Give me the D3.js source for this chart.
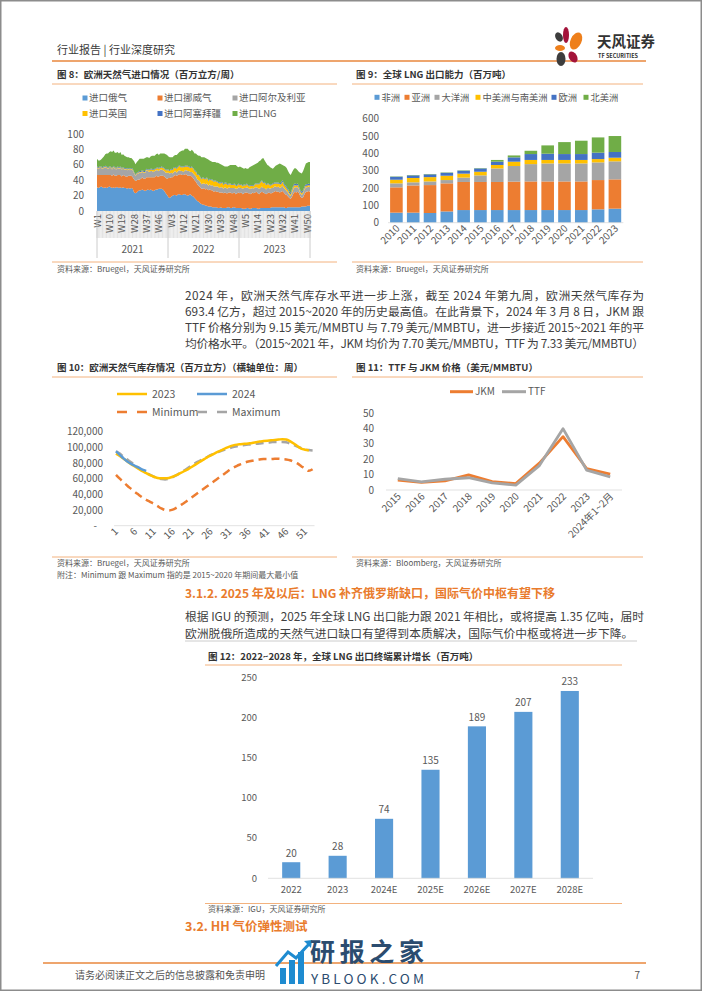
<!DOCTYPE html>
<html><head><meta charset="utf-8">
<script src="https://cdn.jsdelivr.net/npm/d3@7"></script>
<style>body{margin:0;background:#fff} svg{display:block} text{font-family:"Noto Sans CJK SC","Noto Sans",sans-serif}</style>
</head><body><svg id="page" width="702" height="991"></svg>
<script>
// ---------- Figure 8 data (weekly, 2021-2023) ----------
const fig8Keys = ["进口俄气","进口挪威气","进口阿尔及利亚","进口英国","进口阿塞拜疆","进口LNG"];
const fig8Years = ["2021","2022","2023"];
const fig8TickLabels = ["W1","W10","W19","W28","W37","W46","W3","W12","W21","W30","W39","W48","W5","W14","W23","W32","W41","W50"];
const fig8Y = [0,20,40,60,80,100];
const imRussia = [31,30,31,32,31,30,31,30,31,32,31,30,31,30,31,31,30,31,30,31,30,30,29,30,29,30,29,24,23,24,26,27,27,28,27,26,27,28,27,28,27,26,27,28,28,29,29,29,28,26,23,21,
 18,17,19,20,21,21,20,22,22,21,21,22,22,21,20,21,22,20,19,17,15,13,12,10,9,8,8,7,7,6,6,6,5,5,5,5,4,4,5,4,4,4,4,5,5,4,4,5,5,4,4,4,
 4,4,3,3,3,4,4,3,3,4,4,4,4,3,3,4,4,4,4,4,4,4,4,5,5,5,5,5,5,5,5,5,5,4,4,5,5,5,5,5,5,5,5,5,5,6,6,6,6,7,7,7];
const imNorway = [16,17,16,15,16,17,16,17,16,15,16,16,17,16,15,16,17,16,15,16,16,15,16,16,17,16,15,17,16,16,15,14,15,16,15,16,17,16,17,16,17,18,17,18,17,16,17,17,18,19,20,21,
 25,26,25,24,25,26,26,25,26,27,26,25,26,27,26,25,24,25,24,23,23,22,21,21,20,21,22,21,22,21,22,21,22,20,21,20,21,20,19,20,19,20,19,18,19,20,19,18,19,18,19,20,
 19,20,19,20,21,20,19,20,19,20,19,20,21,20,19,20,21,20,19,18,19,20,19,18,19,20,21,20,20,19,20,21,19,18,17,14,12,11,14,18,20,19,20,18,14,11,12,16,19,18,19,18];
const imAlgeria = [9,8,9,9,8,9,10,9,8,9,9,8,9,9,8,9,8,9,9,8,8,9,8,8,7,8,9,8,7,8,8,9,8,7,8,8,9,8,7,8,8,7,8,7,8,7,8,8,7,7,7,8,
 7,6,6,5,5,5,4,5,5,4,5,4,5,5,6,6,5,6,6,7,7,6,7,7,6,7,6,7,7,6,7,6,7,7,6,7,7,6,7,7,6,7,7,6,7,6,7,7,6,7,6,7,
 7,6,7,7,6,7,7,6,7,6,6,7,6,7,7,6,7,6,7,6,7,6,6,7,6,7,6,6,7,6,6,7,6,6,5,5,4,4,5,6,6,7,6,5,4,4,5,6,6,6,6,6];
const imUK = [1,1,1,1,1,1,1,1,1,1,1,1,1,1,1,1,1,1,1,1,1,1,1,1,1,1,1,1,1,1,1,1,1,1,1,1,1,1,2,2,2,2,2,2,3,3,2,3,3,3,3,3,
 3,3,4,4,5,4,5,5,6,5,5,6,5,5,6,5,5,6,6,5,6,6,7,6,6,7,6,6,7,6,6,7,6,6,7,6,5,6,5,6,5,5,6,5,4,5,4,4,5,4,4,4,
 4,4,3,4,3,4,3,3,4,3,3,4,4,5,6,7,7,6,7,6,5,5,4,4,5,4,4,5,4,5,4,5,4,4,3,3,2,2,3,3,3,2,3,2,2,2,2,2,2,2,2,2];
const imAzer = [1,1,1,1,1,1,1,1,1,1,1,1,1,1,1,1,1,1,1,1,1,1,1,1,1,1,1,1,1,1,1,1,1,1,1,1,1,1,1,1,1,1,1,1,1,1,1,1,1,1,1,1,
 1,1,1,1,1,1,1,1,1,1,1,1,1,1,1,1,1,1,1,1,1,1,1,1,1,1,1,1,1,1,1,1,1,1,1,1,1,1,1,1,1,1,1,1,1,1,1,1,1,1,1,1,
 1,1,1,1,1,1,1,1,1,1,1,1,1,1,1,1,1,1,1,1,1,1,1,1,1,1,1,1,1,1,2,2,2,2,2,2,2,2,2,2,2,2,2,2,2,2,2,2,2,2,2,2];
const imLNG = [10,9,8,9,12,13,15,17,18,19,20,21,20,19,20,19,18,19,17,17,16,15,15,14,14,13,12,14,13,14,15,16,16,15,16,17,15,16,15,16,17,18,17,18,18,17,18,17,18,19,20,19,
 17,17,15,16,15,16,17,17,17,20,21,21,22,22,22,21,21,22,22,22,23,25,24,27,28,26,27,27,24,27,24,24,23,25,24,24,25,25,24,22,24,21,21,23,23,24,25,25,24,26,24,21,
 23,22,23,20,22,19,21,24,24,25,27,25,26,27,29,28,28,32,28,28,24,23,23,21,19,20,22,23,24,26,24,20,23,24,25,23,24,23,22,20,20,20,17,19,23,24,25,25,27,28,28,29];

// ---------- Figure 9 data ----------
const fig9Years = ["2010","2011","2012","2013","2014","2015","2016","2017","2018","2019","2020","2021","2022","2023"];
const fig9Keys = ["非洲","亚洲","大洋洲","中美洲与南美洲","欧洲","北美洲"];
const lngAfrica  = [58,58,56,65,73,73,73,73,73,73,73,73,77,81];
const lngAsia    = [146,157,161,162,162,162,162,164,165,165,165,165,169,169];
const lngOceania = [23,18,21,19,25,38,78,90,100,104,104,104,102,104];
const lngLatAm   = [21,25,25,25,23,21,20,25,24,20,20,20,19,21];
const lngEurope  = [17,15,16,17,17,19,19,25,34,36,34,34,37,33];
const lngNAm     = [2,2,2,2,2,2,10,11,19,48,69,77,88,92];
const fig9Y = [0,100,200,300,400,500,600];

// ---------- Figure 10 data ----------
const fig10Weeks = ["1","2","3","4","5","6","7","8","9","10","11","12","13","14","15","16","17","18","19","20","21","22","23","24","25","26","27","28","29","30","31","32","33","34","35","36","37","38","39","40","41","42","43","44","45","46","47","48","49","50","51","52","53"];
const fig10Ticks = ["1","6","11","16","21","26","31","36","41","46","51"];
const stor2023 = [92000,89000,85500,82000,78500,75500,72500,69500,67000,64500,62500,61000,60500,60500,61000,62500,64500,67000,69500,72000,75000,78000,81000,84000,87000,89500,92000,94500,96500,99000,101000,102500,103500,104000,104500,105000,105500,106500,107500,108000,108500,109000,109500,110000,110500,110000,108000,105000,101500,98500,97000,96000];
const stor2024 = [95000,90500,86000,82000,79000,76500,74000,71500,70000];
const storMin = [65000,60000,55500,51000,47000,43000,39500,36000,33000,30500,28000,25000,22000,20000,19500,20500,23000,26000,29000,32500,36000,39500,43000,46500,50000,53500,57000,60500,64000,67500,71000,74000,76500,78500,80500,82000,83000,84000,84500,85000,85000,85000,85500,85500,85000,84500,83500,81500,79500,76000,72500,70000,72000];
const storMax = [95000,92000,88000,84500,81000,77500,74000,70500,67500,65000,62500,60500,59500,59000,60000,62000,64500,67500,70500,73500,77000,80000,82500,85000,87500,90000,92000,94000,96000,97500,99000,100500,101500,102500,103000,103500,104000,104500,105000,105500,106000,106500,107000,107000,107000,106500,105000,103000,101000,99000,97500,96500,96000];
const fig10Y = [0,20000,40000,60000,80000,100000,120000];

// ---------- Figure 11 data ----------
const fig11Cats = ["2015","2016","2017","2018","2019","2020","2021","2022","2023","2024年1~2月"];
const priceJKM = [6.5,5.0,6.0,9.8,5.5,4.2,17.5,34.8,14.0,10.3];
const priceTTF = [7.4,5.3,7.0,8.0,4.7,3.2,15.9,40.0,13.0,8.6];
const fig11Y = [0,10,20,30,40,50];

// ---------- Figure 12 data ----------
const fig12Cats = ["2022","2023","2024E","2025E","2026E","2027E","2028E"];
const fig12Vals = [20,28,74,135,189,207,233];
const fig12Y = [0,50,100,150,200,250];

// ---------- drawing ----------
const svg = d3.select("#page");
const ORANGE = "#E9873C", LIGHTOR = "#F3B27E", TXT = "#404040", AX = "#595959", GRID = "#D9D9D9";
const C6 = ["#5B9BD5","#ED7D31","#A5A5A5","#FFC000","#4472C4","#70AD47"];
function t(g, x, y, s, o = {}) {
  const e = g.append("text").attr("x", x).attr("y", y).attr("dy", "0.35em").text(s)
    .attr("font-size", o.size || 10).attr("fill", o.fill || TXT)
    .attr("text-anchor", o.anchor || "start");
  if (o.weight) e.attr("font-weight", o.weight);
  if (o.len) e.attr("textLength", o.len).attr("lengthAdjust", "spacing");
  if (o.family) e.style("font-family", o.family);
  return e;
}
function hline(x1, x2, y, c, w) { svg.append("line").attr("x1", x1).attr("x2", x2).attr("y1", y).attr("y2", y).attr("stroke", c).attr("stroke-width", w); }

// page frame
svg.append("rect").attr("x", 0.75).attr("y", 0.75).attr("width", 700.5).attr("height", 989.5).attr("fill", "none").attr("stroke", "#8c8c8c").attr("stroke-width", 1.5);

// header
t(svg, 57, 50, "行业报告 | 行业深度研究", {size: 11, fill: "#3a3a3a"});
hline(52, 646, 61, ORANGE, 1.5);
const logo = svg.append("g").attr("transform", "translate(553,25)");
logo.append("ellipse").attr("cx", 6).attr("cy", 12).attr("rx", 3.5).attr("ry", 5).attr("fill", "#3d3d3d").attr("transform", "rotate(-30 6 12)");
logo.append("ellipse").attr("cx", 13).attr("cy", 10).attr("rx", 3).attr("ry", 8).attr("fill", "#A3133A");
logo.append("ellipse").attr("cx", 23).attr("cy", 16).attr("rx", 5.5).attr("ry", 9).attr("fill", "#EE7F1B").attr("transform", "rotate(25 23 16)");
logo.append("ellipse").attr("cx", 7).attr("cy", 23).attr("rx", 5).attr("ry", 3).attr("fill", "#EE7F1B");
logo.append("ellipse").attr("cx", 20).attr("cy", 32).attr("rx", 4).attr("ry", 6).attr("fill", "#A3133A").attr("transform", "rotate(-30 20 32)");
logo.append("ellipse").attr("cx", 8).attr("cy", 34).attr("rx", 4.5).attr("ry", 7).attr("fill", "#3d3d3d");
t(svg, 597, 42, "天风证券", {size: 14.5, weight: "bold", fill: "#333"});
t(svg, 598, 56, "TF SECURITIES", {size: 5.5, fill: "#333", weight: "bold"});

// ======= Figure 8 =======
t(svg, 57, 75, "图 8：欧洲天然气进口情况（百万立方/周）", {size: 9.5, weight: "bold", fill: "#333"});
hline(52, 337, 84, LIGHTOR, 1);
{
  const g = svg.append("g");
  const legX = [85, 160, 235];
  fig8Keys.forEach((k, i) => {
    const lx = legX[i % 3], ly = i < 3 ? 98 : 113.5;
    g.append("rect").attr("x", lx - 2.5).attr("y", ly - 2.5).attr("width", 5).attr("height", 5).attr("fill", C6[i]);
    t(g, lx + 4, ly, k, {size: 9.5, fill: AX});
  });
  const rows = imRussia.map((v, i) => ({"进口俄气": v, "进口挪威气": imNorway[i], "进口阿尔及利亚": imAlgeria[i], "进口英国": imUK[i], "进口阿塞拜疆": imAzer[i], "进口LNG": imLNG[i]}));
  const x = d3.scaleLinear().domain([0, rows.length - 1]).range([97, 310]);
  const y = d3.scaleLinear().domain([0, 100]).range([211, 134.3]);
  const series = d3.stack().keys(fig8Keys)(rows);
  const area = d3.area().x((d, i) => x(i)).y0(d => y(d[0])).y1(d => y(d[1]));
  g.selectAll("path.a").data(series).join("path").attr("d", area).attr("fill", (d, i) => C6[i]);
  fig8Y.forEach(v => t(g, 84, y(v), String(v), {size: 10, fill: AX, anchor: "end"}));
  const step = (310 - 97) / (rows.length);
  for (let i = 0; i <= rows.length; i++) {
    const xx = 97 + i * step;
    g.append("line").attr("x1", xx).attr("x2", xx).attr("y1", 211).attr("y2", 238).attr("stroke", "#cfcfcf").attr("stroke-width", 0.6);
  }
  fig8TickLabels.forEach((lab, j) => {
    const xx = x(j * 9);
    g.append("text").attr("transform", `translate(${xx + 3.5},214) rotate(-90)`).attr("text-anchor", "end")
      .attr("font-size", 9.5).attr("fill", AX).text(lab);
  });
  [0, 1, 2, 3].forEach(k => {
    const xx = 97 + k * (310 - 97) / 3;
    g.append("line").attr("x1", xx).attr("x2", xx).attr("y1", 211).attr("y2", 258).attr("stroke", "#bfbfbf").attr("stroke-width", 0.8);
  });
  fig8Years.forEach((yr, k) => t(g, 97 + (k + 0.5) * (310 - 97) / 3, 249, yr, {size: 10, fill: AX, anchor: "middle"}));
}
hline(52, 337, 262, LIGHTOR, 1);
t(svg, 57, 269.5, "资料来源：Bruegel，天风证券研究所", {size: 8, fill: AX});

// ======= Figure 9 =======
t(svg, 356, 75, "图 9：全球 LNG 出口能力（百万吨）", {size: 9.5, weight: "bold", fill: "#333"});
hline(352, 643, 84, LIGHTOR, 1);
{
  const g = svg.append("g");
  const legX = [377, 407, 437, 478, 554, 586];
  fig9Keys.forEach((k, i) => {
    g.append("rect").attr("x", legX[i] - 2.5).attr("y", 97.3 - 2.5).attr("width", 5).attr("height", 5).attr("fill", C6[i]);
    t(g, legX[i] + 4.5, 97.3, k, {size: 9.3, fill: AX});
  });
  const rows = fig9Years.map((yr, i) => ({year: yr, "非洲": lngAfrica[i], "亚洲": lngAsia[i], "大洋洲": lngOceania[i], "中美洲与南美洲": lngLatAm[i], "欧洲": lngEurope[i], "北美洲": lngNAm[i]}));
  const x = d3.scaleBand().domain(fig9Years).range([388, 623.3]).paddingInner(0.25).paddingOuter(0.125);
  const y = d3.scaleLinear().domain([0, 600]).range([222.7, 118.7]);
  const series = d3.stack().keys(fig9Keys)(rows);
  g.selectAll("g.s").data(series).join("g").attr("fill", (d, i) => C6[i])
    .selectAll("rect").data(d => d).join("rect")
    .attr("x", d => x(d.data.year)).attr("width", x.bandwidth())
    .attr("y", d => y(d[1])).attr("height", d => y(d[0]) - y(d[1]));
  hline(388, 623.3, 222.7, GRID, 0.8);
  fig9Y.forEach(v => t(g, 379, y(v), String(v), {size: 10, fill: AX, anchor: "end"}));
  fig9Years.forEach(yr => {
    const xx = x(yr) + x.bandwidth() / 2;
    g.append("text").attr("transform", `translate(${xx + 4},${229}) rotate(-45)`).attr("text-anchor", "end")
      .attr("font-size", 10).attr("fill", AX).text(yr);
  });
}
hline(352, 643, 262, LIGHTOR, 1);
t(svg, 356, 269.5, "资料来源：Bruegel，天风证券研究所", {size: 8, fill: AX});

// ======= Paragraph =======
const para1 = ["2024 年，欧洲天然气库存水平进一步上涨，截至 2024 年第九周，欧洲天然气库存为",
  "693.4 亿方，超过 2015~2020 年的历史最高值。在此背景下，2024 年 3 月 8 日，JKM 跟",
  "TTF 价格分别为 9.15 美元/MMBTU 与 7.79 美元/MMBTU，进一步接近 2015~2021 年的平",
  "均价格水平。（2015~2021 年，JKM 均价为 7.70 美元/MMBTU，TTF 为 7.33 美元/MMBTU）"];
para1.forEach((s, i) => t(svg, 185, 296 + i * 16, s, {size: 11.8, fill: TXT, len: 459}));

// ======= Figure 10 =======
t(svg, 57, 368, "图 10：欧洲天然气库存情况（百万立方）（横轴单位：周）", {size: 9.5, weight: "bold", fill: "#333"});
hline(52, 337, 377, LIGHTOR, 1);
{
  const g = svg.append("g");
  const x = d3.scaleBand().domain(fig10Weeks).range([114.1, 314.5]);
  const cx = w => x(w) + x.bandwidth() / 2;
  const y = d3.scaleLinear().domain([0, 120000]).range([525.7, 431.7]);
  const L = [[117, 394, "#FFC000", null, "2023"], [197, 394, "#5B9BD5", null, "2024"], [117, 412, "#ED7D31", "10,10", "Minimum"], [197, 412, "#A5A5A5", "10,10", "Maximum"]];
  L.forEach(([lx, ly, c, da, s]) => {
    const l = g.append("line").attr("x1", lx).attr("x2", lx + 30).attr("y1", ly).attr("y2", ly).attr("stroke", c).attr("stroke-width", 2.5);
    if (da) l.attr("stroke-dasharray", da);
    t(g, lx + 35, ly, s, {size: 10.5, fill: AX});
  });
  hline(114.1, 314.5, 525.7, GRID, 0.8);
  fig10Y.forEach(v => t(g, v === 0 ? 97 : 103, y(v), v === 0 ? "-" : d3.format(",")(v), {size: 10, fill: AX, anchor: "end"}));
  const line = d3.line().x((d, i) => cx(fig10Weeks[i])).y(d => y(d)).curve(d3.curveMonotoneX);
  g.append("path").attr("d", line(storMin)).attr("fill", "none").attr("stroke", "#ED7D31").attr("stroke-width", 2.5).attr("stroke-dasharray", "8,5");
  g.append("path").attr("d", line(storMax)).attr("fill", "none").attr("stroke", "#A5A5A5").attr("stroke-width", 2.5).attr("stroke-dasharray", "8,5");
  g.append("path").attr("d", line(stor2023)).attr("fill", "none").attr("stroke", "#FFC000").attr("stroke-width", 2.5);
  g.append("path").attr("d", line(stor2024)).attr("fill", "none").attr("stroke", "#5B9BD5").attr("stroke-width", 2.5);
  fig10Ticks.forEach(w => {
    g.append("text").attr("transform", `translate(${cx(w) + 3},${532}) rotate(-45)`).attr("text-anchor", "end")
      .attr("font-size", 10).attr("fill", AX).text(w);
  });
}
hline(52, 337, 557, LIGHTOR, 1);
t(svg, 57, 563.5, "资料来源：Bruegel，天风证券研究所", {size: 8, fill: AX});
t(svg, 57, 575.5, "附注：Minimum 跟 Maximum 指的是 2015~2020 年期间最大最小值", {size: 8, fill: AX});

// ======= Figure 11 =======
t(svg, 356, 368, "图 11：TTF 与 JKM 价格（美元/MMBTU）", {size: 9.5, weight: "bold", fill: "#333"});
hline(352, 643, 377, LIGHTOR, 1);
{
  const g = svg.append("g");
  const x = d3.scaleBand().domain(fig11Cats).range([386, 622]);
  const cx = c => x(c) + x.bandwidth() / 2;
  const y = d3.scaleLinear().domain([0, 50]).range([490, 413.3]);
  g.append("line").attr("x1", 450).attr("x2", 473).attr("y1", 391.7).attr("y2", 391.7).attr("stroke", "#ED7D31").attr("stroke-width", 3);
  t(g, 475, 391.7, "JKM", {size: 10, fill: AX});
  g.append("line").attr("x1", 502).attr("x2", 526).attr("y1", 391.7).attr("y2", 391.7).attr("stroke", "#A5A5A5").attr("stroke-width", 3);
  t(g, 528, 391.7, "TTF", {size: 10, fill: AX});
  hline(386, 622, 490, GRID, 0.8);
  fig11Y.forEach(v => t(g, 374, y(v), String(v), {size: 10, fill: AX, anchor: "end"}));
  const line = d3.line().x((d, i) => cx(fig11Cats[i])).y(d => y(d));
  g.append("path").attr("d", line(priceJKM)).attr("fill", "none").attr("stroke", "#ED7D31").attr("stroke-width", 2.8).attr("stroke-linejoin", "round");
  g.append("path").attr("d", line(priceTTF)).attr("fill", "none").attr("stroke", "#A5A5A5").attr("stroke-width", 2.8).attr("stroke-linejoin", "round");
  fig11Cats.forEach(c => {
    g.append("text").attr("transform", `translate(${cx(c) + 4},${497}) rotate(-45)`).attr("text-anchor", "end")
      .attr("font-size", 10).attr("fill", AX).text(c);
  });
}
hline(352, 643, 557, LIGHTOR, 1);
t(svg, 356, 563.5, "资料来源：Bloomberg，天风证券研究所", {size: 8, fill: AX});

// ======= Section 3.1.2 =======
t(svg, 185, 594, "3.1.2. 2025 年及以后：LNG 补齐俄罗斯缺口，国际气价中枢有望下移", {size: 12, weight: "bold", fill: "#E97B2C"});
t(svg, 185, 617, "根据 IGU 的预测，2025 年全球 LNG 出口能力跟 2021 年相比，或将提高 1.35 亿吨，届时", {size: 11.8, fill: TXT, len: 459});
t(svg, 185, 634, "欧洲脱俄所造成的天然气进口缺口有望得到本质解决，国际气价中枢或将进一步下降。", {size: 11.8, fill: TXT});
hline(185, 637, 641, "#bfbfbf", 0.8);

// ======= Figure 12 =======
t(svg, 208, 657, "图 12：2022~2028 年，全球 LNG 出口终端累计增长（百万吨）", {size: 9.5, weight: "bold", fill: "#333"});
hline(205, 622, 665, LIGHTOR, 1);
{
  const g = svg.append("g");
  const x = d3.scaleBand().domain(fig12Cats).range([268, 593]).paddingInner(0.61).paddingOuter(0.305);
  const y = d3.scaleLinear().domain([0, 250]).range([878.3, 677.3]);
  hline(268, 593, 878.3, GRID, 0.8);
  fig12Y.forEach(v => t(g, 257, y(v), String(v), {size: 9.5, fill: AX, anchor: "end"}));
  g.selectAll("rect").data(fig12Vals).join("rect")
    .attr("x", (d, i) => x(fig12Cats[i])).attr("width", x.bandwidth())
    .attr("y", d => y(d)).attr("height", d => y(0) - y(d)).attr("fill", "#5B9BD5");
  fig12Vals.forEach((v, i) => t(g, x(fig12Cats[i]) + x.bandwidth() / 2, y(v) - 9, String(v), {size: 10, fill: AX, anchor: "middle"}));
  fig12Cats.forEach(c => t(g, x(c) + x.bandwidth() / 2, 890, c, {size: 9.5, fill: AX, anchor: "middle"}));
}
hline(205, 622, 903.5, LIGHTOR, 1);
t(svg, 208, 909.5, "资料来源：IGU，天风证券研究所", {size: 8, fill: AX});

t(svg, 185, 927, "3.2. HH 气价弹性测试", {size: 12.5, weight: "bold", fill: "#E97B2C"});

// footer
hline(43, 646, 963, ORANGE, 1.5);
t(svg, 75, 975, "请务必阅读正文之后的信息披露和免责申明", {size: 10, fill: "#555"});
t(svg, 640, 975, "7", {size: 10, fill: "#555", anchor: "end"});

// watermark
{
  const g = svg.append("g");
  const bars = [[280, 968, 6, 16], [289, 960, 6, 24], [298, 952, 6, 32]];
  bars.forEach(([bx, by, bw, bh]) => g.append("rect").attr("x", bx).attr("y", by).attr("width", bw).attr("height", bh).attr("fill", "#1E8BD0"));
  g.append("path").attr("d", "M276,966 L288,952 L296,958 L310,943").attr("fill", "none").attr("stroke", "#1E8BD0").attr("stroke-width", 3);
  g.append("path").attr("d", "M304,941 L312,940 L311,948 Z").attr("fill", "#1E8BD0");
  t(g, 310, 952, "研报之家", {size: 25, weight: "bold", fill: "#2B4C6F", len: 114});
  t(g, 311, 979, "YBLOOK.COM", {size: 13.5, fill: "#2B4C6F", len: 113});
}
</script></body></html>
